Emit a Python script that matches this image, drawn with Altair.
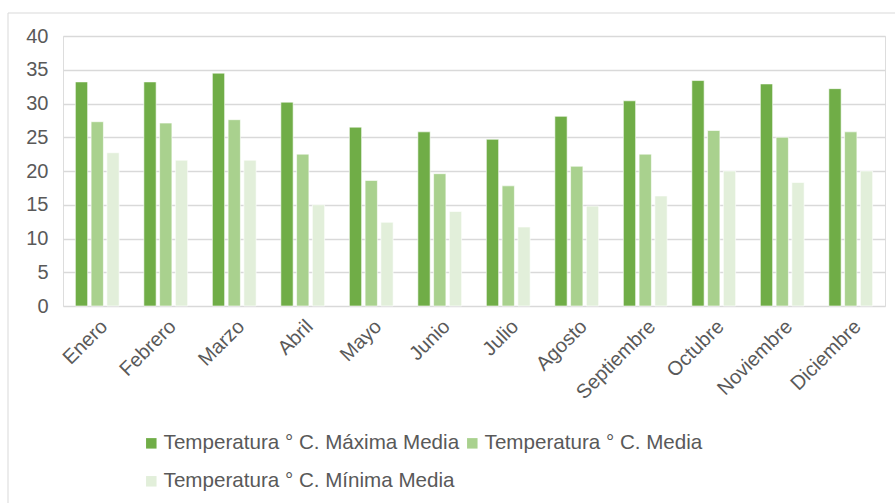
import altair as alt
import pandas as pd

months = ["Enero", "Febrero", "Marzo", "Abril", "Mayo", "Junio", "Julio",
          "Agosto", "Septiembre", "Octubre", "Noviembre", "Diciembre"]
series = ["Temperatura ° C. Máxima Media", "Temperatura ° C. Media",
          "Temperatura ° C. Mínima Media"]
maxima = [33.2, 33.2, 34.5, 30.2, 26.5, 25.8, 24.7, 28.1, 30.4, 33.4, 32.9, 32.2]
media = [27.3, 27.1, 27.6, 22.5, 18.6, 19.6, 17.8, 20.7, 22.5, 26.0, 25.0, 25.8]
minima = [22.7, 21.6, 21.6, 15.0, 12.4, 14.0, 11.7, 14.8, 16.3, 20.0, 18.3, 20.0]
colors = ["#70AD47", "#A9D18E", "#E2EFDA"]
y_ticks = [0, 5, 10, 15, 20, 25, 30, 35, 40]

rows = []
for s, vals in zip(series, [maxima, media, minima]):
    for m, v in zip(months, vals):
        rows.append({"mes": m, "serie": s, "valor": v})
df = pd.DataFrame(rows)

FONT = "Liberation Sans"
GRAY = "#595959"

frame = alt.Chart(pd.DataFrame({"a": [0]})).mark_rect(
    fill=None, stroke="#D9D9D9", strokeWidth=1
).encode(x=alt.value(-55), x2=alt.value(900), y=alt.value(-23), y2=alt.value(480))

bars = alt.Chart(df).mark_bar(stroke="white", strokeWidth=0.6).encode(
    x=alt.X("mes:N", sort=months, title=None,
            scale=alt.Scale(paddingInner=0.31, paddingOuter=0.155),
            axis=alt.Axis(labelAngle=-45, labelFontSize=20, labelColor=GRAY,
                          labelFont=FONT, ticks=False, tickSize=0, domain=False,
                          labelPadding=10, grid=False)),
    xOffset=alt.XOffset("serie:N", sort=series,
                        scale=alt.Scale(paddingInner=0.22, paddingOuter=0.11)),
    y=alt.Y("valor:Q", title=None,
            scale=alt.Scale(domain=[0, 40], nice=False),
            axis=alt.Axis(values=y_ticks, labelFontSize=20, labelColor=GRAY,
                          labelFont=FONT, ticks=False, tickSize=0, domain=False,
                          labelPadding=15, gridColor="#D9D9D9", gridWidth=1.3)),
    color=alt.Color("serie:N", sort=series,
                    scale=alt.Scale(domain=series, range=colors),
                    legend=alt.Legend(title=None, orient="none", legendX=78, legendY=397,
                                      columns=2, direction="horizontal",
                                      symbolType="square", symbolSize=110,
                                      symbolStrokeWidth=0,
                                      labelFontSize=20.6, labelFont=FONT,
                                      labelColor=GRAY, labelOffset=2,
                                      columnPadding=2, rowPadding=17,
                                      padding=0, labelLimit=400)),
)

chart = alt.layer(frame, bars).properties(
    width=822, height=270,
    autosize=alt.AutoSizeParams(type="none"),
    padding={"left": 63, "top": 36, "right": 10, "bottom": 197},
).configure_view(stroke=None).configure(background="white")

chart.save("out.html", embed_options={"renderer": "svg", "actions": False})
